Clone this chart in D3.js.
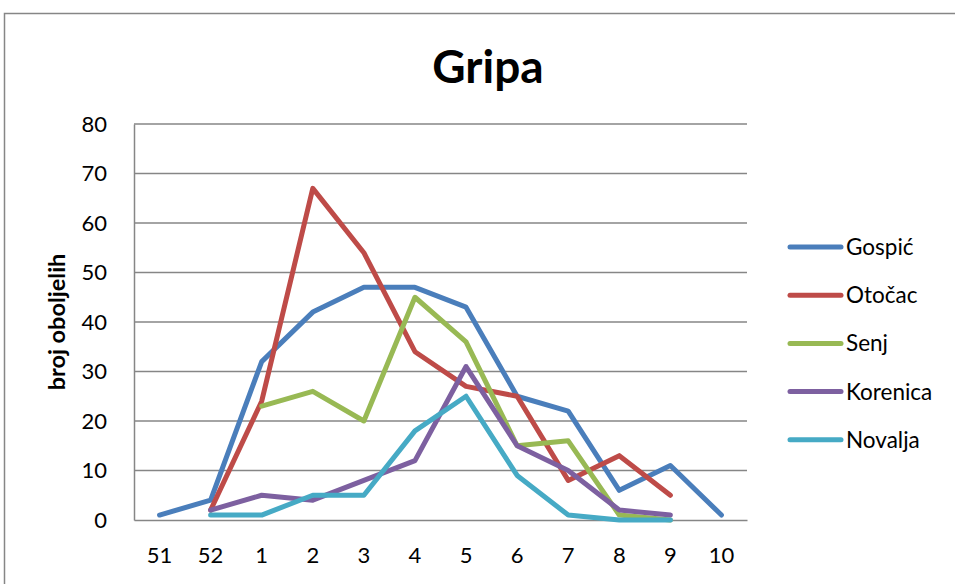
<!DOCTYPE html>
<html><head><meta charset="utf-8">
<script src="https://cdn.jsdelivr.net/npm/d3@7"></script>
<style>body{margin:0;background:#fff;} svg{display:block;font-family:Lato,"Open Sans",sans-serif;}</style>
</head><body>
<svg id="c" width="955" height="584"></svg>
<script>
const categories = ["51","52","1","2","3","4","5","6","7","8","9","10"];
const yTicks = [0,10,20,30,40,50,60,70,80];
const seriesNames = ["Gospić","Otočac","Senj","Korenica","Novalja"];
const seriesColors = ["#4A7EBB","#BE4B48","#98B954","#7D60A0","#46AAC5"];
const gospic   = [1,4,32,42,47,47,43,25,22,6,11,1];
const otocac   = [null,2,24,67,54,34,27,25,8,13,5,null];
const senj     = [null,null,23,26,20,45,36,15,16,1,0,null];
const korenica = [null,2,5,4,8,12,31,15,10,2,1,null];
const novalja  = [null,1,1,5,5,18,25,9,1,0,0,null];
const seriesValues = [gospic,otocac,senj,korenica,novalja];

(function(){
const svg = d3.select("#c");
const pLeft = 134, pRight = 747, pTop = 124, pBottom = 520;
const x = d3.scaleBand().domain(categories).range([pLeft,pRight]);
const y = d3.scaleLinear().domain([0,80]).range([pBottom,pTop]);

// outer chart border
svg.append("rect").attr("x",4.5).attr("y",13.5).attr("width",1000).attr("height",1000)
  .attr("fill","none").attr("stroke","#868686").attr("stroke-width",1.5);

// title
svg.append("text").attr("x",488).attr("y",83).attr("text-anchor","middle")
  .attr("font-size",46).attr("font-weight","bold").text("Gripa");

// gridlines
svg.append("g").selectAll("line").data(yTicks.filter(d=>d>0)).join("line")
  .attr("x1",pLeft).attr("x2",pRight).attr("y1",d=>y(d)).attr("y2",d=>y(d))
  .attr("stroke","#868686").attr("stroke-width",1.5);

// y axis
const yAxis = svg.append("g").attr("transform",`translate(${pLeft},0)`)
  .call(d3.axisLeft(y).tickValues(yTicks).tickSize(0).tickPadding(27));
yAxis.select(".domain").attr("stroke","#868686").attr("stroke-width",1.5);
yAxis.selectAll("text").attr("font-size",22).attr("font-family","Lato").attr("fill","#000");

// x axis
const xAxis = svg.append("g").attr("transform",`translate(0,${pBottom})`)
  .call(d3.axisBottom(x).tickSize(0).tickPadding(27));
xAxis.select(".domain").attr("stroke","#868686").attr("stroke-width",1.5);
xAxis.selectAll("text").attr("font-size",22).attr("font-family","Lato").attr("fill","#000");

// y axis title
svg.append("text").attr("transform","translate(65,322) rotate(-90)").attr("text-anchor","middle")
  .attr("font-size",23.5).attr("font-weight","bold").text("broj oboljelih");

// lines
const line = d3.line().defined(d=>d.v!=null).x(d=>x(d.c)+x.bandwidth()/2).y(d=>y(d.v));
seriesValues.forEach((vals,i)=>{
  svg.append("path").datum(vals.map((v,j)=>({c:categories[j],v})))
    .attr("d",line).attr("fill","none").attr("stroke",seriesColors[i])
    .attr("stroke-width",5).attr("stroke-linejoin","round").attr("stroke-linecap","round");
});

// legend
const lg = svg.append("g");
seriesNames.forEach((n,i)=>{
  const ly = 247 + i*48.2;
  lg.append("line").attr("x1",790).attr("x2",841).attr("y1",ly).attr("y2",ly)
    .attr("stroke",seriesColors[i]).attr("stroke-width",5).attr("stroke-linecap","round");
  lg.append("text").attr("x",846).attr("y",ly+8).attr("font-size",22.5).text(n);
});
})();
</script>
</body></html>
